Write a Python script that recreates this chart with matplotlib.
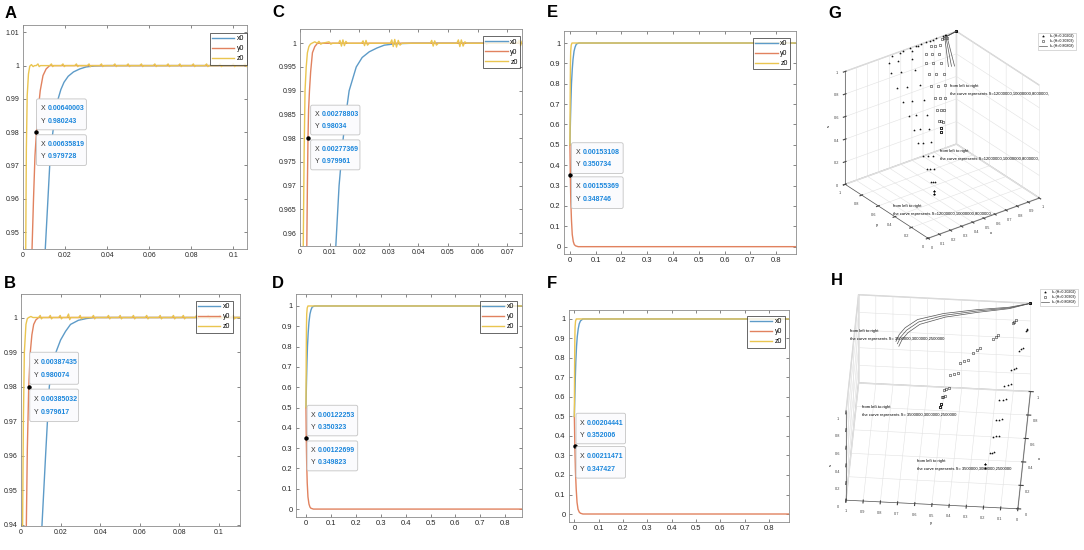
import matplotlib
matplotlib.use("Agg")
import matplotlib.pyplot as plt
from matplotlib.lines import Line2D
from matplotlib.patches import FancyBboxPatch
from matplotlib.transforms import offset_copy

plt.rcParams["font.family"] = ["Liberation Sans", "DejaVu Sans"]

FIG_W, FIG_H = 1084, 550

BLUE = "#5d9bc8"
ORANGE = "#e1825f"
YELLOW = "#eac550"
TIP_BLUE = "#1a86dc"

SERIES_NAMES = ["x0", "y0", "z0"]

# ---------------- panel A ----------------
a_x0_t = [0.0100, 0.0106, 0.0117, 0.0127, 0.0140, 0.0153, 0.0167, 0.0180, 0.0195,
          0.0215, 0.0240, 0.0270, 0.0300, 0.0340, 0.0400, 0.1065]
a_x0_v = [0.938, 0.945, 0.958, 0.970, 0.979, 0.9855, 0.990, 0.9928, 0.9950,
          0.9968, 0.9981, 0.9990, 0.9996, 0.9999, 1.0000, 1.0000]
a_y0_t = [0.0040, 0.0043, 0.0050, 0.0057, 0.0064, 0.0072, 0.0082, 0.0095, 0.0110, 0.0127, 0.1065]
a_y0_v = [0.9380, 0.945, 0.960, 0.973, 0.980, 0.9865, 0.9925, 0.9970, 0.9990, 1.0000, 1.0000]
a_z0_t = [0.0012, 0.0013, 0.0016, 0.0020, 0.0026, 0.0032, 0.0040, 0.0048, 0.0055, 0.0063,
          0.0071, 0.0077, 0.0083,
          0.0127, 0.0135, 0.0141, 0.0147, 0.0182, 0.0190, 0.0196, 0.0202,
          0.0246, 0.0254, 0.0260, 0.0266, 0.0306, 0.0314, 0.0320, 0.0326,
          0.0365, 0.0373, 0.0379, 0.0385, 0.0429, 0.0437, 0.0443, 0.0449,
          0.0492, 0.0500, 0.0506, 0.0512, 0.0555, 0.0563, 0.0569, 0.0575,
          0.0619, 0.0627, 0.0633, 0.0639, 0.0682, 0.0690, 0.0696, 0.0702,
          0.0738, 0.0746, 0.0752, 0.0758, 0.0802, 0.0810, 0.0816, 0.0822,
          0.0865, 0.0873, 0.0879, 0.0885, 0.0929, 0.0937, 0.0943, 0.0949,
          0.0992, 0.1000, 0.1006, 0.1012, 0.1048, 0.1056, 0.1062, 0.1065]
a_z0_v = [0.935, 0.945, 0.975, 0.991, 0.9975, 0.9998, 1.0003, 0.9997, 1.0000, 1.0000,
          1.0005, 0.9997, 1.0000,
          1.0, 1.0005, 0.9997, 1.0, 1.0, 1.0005, 0.9997, 1.0,
          1.0, 1.0005, 0.9997, 1.0, 1.0, 1.0005, 0.9997, 1.0,
          1.0, 1.0005, 0.9997, 1.0, 1.0, 1.0005, 0.9997, 1.0,
          1.0, 1.0005, 0.9997, 1.0, 1.0, 1.0005, 0.9997, 1.0,
          1.0, 1.0005, 0.9997, 1.0, 1.0, 1.0005, 0.9997, 1.0,
          1.0, 1.0005, 0.9997, 1.0, 1.0, 1.0005, 0.9997, 1.0,
          1.0, 1.0005, 0.9997, 1.0, 1.0, 1.0005, 0.9997, 1.0,
          1.0, 1.0005, 0.9997, 1.0, 1.0, 1.0005, 0.9997, 1.0]
a_tip_point = (0.0064, 0.98)
a_tips = [("0.00640003", "0.980243"), ("0.00635819", "0.979728")]

# ---------------- panel B ----------------
b_x0_t = [0.0100, 0.0106, 0.0125, 0.0143, 0.0155, 0.0168, 0.0180, 0.0200, 0.0225,
          0.0250, 0.0290, 0.0330, 0.0370, 0.1106]
b_x0_v = [0.9335, 0.940, 0.961, 0.980, 0.9855, 0.9885, 0.9905, 0.9935, 0.996,
          0.998, 0.9992, 0.9997, 1.0000, 1.0000]
b_y0_t = [0.0025, 0.0027, 0.0032, 0.0039, 0.0047, 0.0055, 0.0064, 0.0075, 0.0089, 0.1106]
b_y0_v = [0.930, 0.940, 0.962, 0.980, 0.990, 0.995, 0.998, 0.9993, 1.0000, 1.0000]
b_z0_t = [0.0007, 0.0008, 0.0012, 0.0017, 0.0025, 0.0032, 0.0039, 0.0050, 0.0060,
          0.0089, 0.0097, 0.0103, 0.0109, 0.0140, 0.0148, 0.0154, 0.0160,
          0.0190, 0.0198, 0.0204, 0.0210, 0.0232, 0.0240, 0.0246, 0.0252,
          0.0291, 0.0299, 0.0305, 0.0311, 0.0358, 0.0366, 0.0372, 0.0378,
          0.0434, 0.0442, 0.0448, 0.0454, 0.0493, 0.0501, 0.0507, 0.0513,
          0.0560, 0.0568, 0.0574, 0.0580, 0.0627, 0.0635, 0.0641, 0.0647,
          0.0695, 0.0703, 0.0709, 0.0715, 0.0762, 0.0770, 0.0776, 0.0782,
          0.0812, 0.0820, 0.0826, 0.0832, 0.0879, 0.0887, 0.0893, 0.0899,
          0.0938, 0.0946, 0.0952, 0.0958, 0.0997, 0.1005, 0.1011, 0.1017,
          0.1064, 0.1072, 0.1078, 0.1084, 0.1106]
b_z0_v = [0.930, 0.940, 0.970, 0.990, 0.998, 0.9997, 1.0000, 1.0003, 1.0000,
          1.0, 1.0006, 0.9996, 1.0, 1.0, 1.0006, 0.9996, 1.0,
          1.0, 1.0006, 0.9996, 1.0, 1.0, 1.0010, 0.9994, 1.0,
          1.0, 1.0006, 0.9996, 1.0, 1.0, 1.0006, 0.9996, 1.0,
          1.0, 1.0006, 0.9996, 1.0, 1.0, 1.0006, 0.9996, 1.0,
          1.0, 1.0006, 0.9996, 1.0, 1.0, 1.0006, 0.9996, 1.0,
          1.0, 1.0006, 0.9996, 1.0, 1.0, 1.0006, 0.9996, 1.0,
          1.0, 1.0006, 0.9996, 1.0, 1.0, 1.0006, 0.9996, 1.0,
          1.0, 1.0006, 0.9996, 1.0, 1.0, 1.0006, 0.9996, 1.0,
          1.0, 1.0006, 0.9996, 1.0, 1.0]
b_tip_point = (0.00387, 0.98)
b_tips = [("0.00387435", "0.980074"), ("0.00385032", "0.979617")]

# ---------------- panel C ----------------
c_x0_t = [0.0115, 0.0121, 0.0132, 0.0146, 0.0155, 0.0166, 0.0190, 0.0210, 0.0234,
          0.0260, 0.0285, 0.0324, 0.0380, 0.0750]
c_x0_v = [0.950, 0.9573, 0.970, 0.980, 0.985, 0.990, 0.995, 0.9970, 0.9982,
          0.9990, 0.9996, 0.9999, 1.0000, 1.0000]
c_y0_t = [0.0021, 0.0023, 0.0025, 0.0027, 0.0029, 0.0032, 0.0036, 0.0042, 0.0050, 0.0059, 0.0750]
c_y0_v = [0.945, 0.9573, 0.970, 0.980, 0.986, 0.990, 0.994, 0.998, 0.9993, 1.0000, 1.0000]
c_z0_t = [0.0009, 0.0011, 0.0014, 0.0017, 0.0021, 0.0025, 0.0030, 0.0035, 0.0040, 0.0050, 0.0058,
          0.0064, 0.0070, 0.0076, 0.0098, 0.0104, 0.0110,
          0.0130, 0.0135, 0.0140, 0.0145, 0.0150, 0.0155, 0.0160,
          0.0208, 0.0213, 0.0218, 0.0223, 0.0228, 0.0234,
          0.0305, 0.0310, 0.0315, 0.0320, 0.0326, 0.0332, 0.0338, 0.0344,
          0.0440, 0.0445, 0.0450, 0.0455, 0.0461, 0.0467,
          0.0530, 0.0535, 0.0540, 0.0545, 0.0551, 0.0557, 0.0563,
          0.0620, 0.0625, 0.0630, 0.0635, 0.0700, 0.0735, 0.0740, 0.0745, 0.0750]
c_z0_v = [0.945, 0.9573, 0.977, 0.990, 0.995, 0.998, 0.9993, 0.9998, 1.0000, 1.0003, 1.0000,
          1.0004, 0.9998, 1.0, 1.0003, 0.9998, 1.0,
          1.0, 1.0006, 0.9994, 1.0007, 0.9995, 1.0004, 1.0,
          1.0, 1.0005, 0.9995, 1.0006, 0.9996, 1.0,
          1.0, 1.0007, 0.9993, 1.0008, 0.9992, 1.0006, 0.9996, 1.0,
          1.0, 1.0006, 0.9994, 1.0005, 0.9996, 1.0,
          1.0, 1.0007, 0.9993, 1.0007, 0.9994, 1.0003, 1.0,
          1.0, 1.0003, 0.9998, 1.0, 1.0, 1.0, 1.0006, 0.9995, 1.0004]
c_tip_point = (0.00278, 0.98)
c_tips = [("0.00278803", "0.98034"), ("0.00277369", "0.979961")]

# ---------------- panel D ----------------
d_x0_t = [0.000, 0.002, 0.004, 0.006, 0.009, 0.012, 0.016, 0.020, 0.025, 0.035, 0.867]
d_x0_v = [0.50, 0.62, 0.72, 0.80, 0.87, 0.92, 0.96, 0.98, 0.995, 1.00, 1.00]
d_y0_t = [0.000, 0.0012, 0.003, 0.005, 0.008, 0.012, 0.016, 0.020, 0.030, 0.867]
d_y0_v = [0.50, 0.35, 0.22, 0.13, 0.06, 0.025, 0.010, 0.004, 0.000, 0.000]
d_z0_t = [0.000, 0.001, 0.002, 0.003, 0.005, 0.008, 0.867]
d_z0_v = [0.50, 0.75, 0.90, 0.96, 0.99, 1.00, 1.00]
d_tip_point = (0.00122, 0.35)
d_tips = [("0.00122253", "0.350323"), ("0.00122699", "0.349823")]

# ---------------- panel E ----------------
e_x0_t = [0.000, 0.002, 0.004, 0.006, 0.009, 0.012, 0.016, 0.020, 0.025, 0.035, 0.877]
e_x0_v = [0.50, 0.62, 0.72, 0.80, 0.87, 0.92, 0.96, 0.98, 0.995, 1.00, 1.00]
e_y0_t = [0.000, 0.0015, 0.0035, 0.006, 0.009, 0.013, 0.017, 0.022, 0.032, 0.877]
e_y0_v = [0.50, 0.35, 0.22, 0.13, 0.06, 0.025, 0.010, 0.004, 0.000, 0.000]
e_z0_t = [0.000, 0.001, 0.002, 0.003, 0.005, 0.008, 0.877]
e_z0_v = [0.50, 0.75, 0.90, 0.96, 0.99, 1.00, 1.00]
e_tip_point = (0.00153, 0.35)
e_tips = [("0.00153108", "0.350734"), ("0.00155369", "0.348746")]

# ---------------- panel F ----------------
f_x0_t = [0.000, 0.002, 0.004, 0.006, 0.009, 0.012, 0.016, 0.020, 0.025, 0.035, 0.882]
f_x0_v = [0.50, 0.60, 0.70, 0.78, 0.86, 0.91, 0.95, 0.975, 0.99, 1.00, 1.00]
f_y0_t = [0.000, 0.0020, 0.0045, 0.0075, 0.011, 0.015, 0.020, 0.025, 0.035, 0.882]
f_y0_v = [0.50, 0.35, 0.22, 0.13, 0.06, 0.025, 0.010, 0.004, 0.000, 0.000]
f_z0_t = [0.000, 0.001, 0.002, 0.003, 0.005, 0.008, 0.882]
f_z0_v = [0.50, 0.75, 0.90, 0.96, 0.99, 1.00, 1.00]
f_tip_point = (0.00204, 0.35)
f_tips = [("0.00204441", "0.352006"), ("0.00211471", "0.347427")]

# ---------------- tick labels ----------------
AB_X_TICKS = [0, 0.02, 0.04, 0.06, 0.08, 0.1]
AB_X_LABELS = ["0", "0.02", "0.04", "0.06", "0.08", "0.1"]
A_Y_TICKS = [0.95, 0.96, 0.97, 0.98, 0.99, 1.0, 1.01]
A_Y_LABELS = ["0.95", "0.96", "0.97", "0.98", "0.99", "1", "1.01"]
B_Y_TICKS = [0.94, 0.95, 0.96, 0.97, 0.98, 0.99, 1.0]
B_Y_LABELS = ["0.94", "0.95", "0.96", "0.97", "0.98", "0.99", "1"]
C_X_TICKS = [0, 0.01, 0.02, 0.03, 0.04, 0.05, 0.06, 0.07]
C_X_LABELS = ["0", "0.01", "0.02", "0.03", "0.04", "0.05", "0.06", "0.07"]
C_Y_TICKS = [0.96, 0.965, 0.97, 0.975, 0.98, 0.985, 0.99, 0.995, 1.0]
C_Y_LABELS = ["0.96", "0.965", "0.97", "0.975", "0.98", "0.985", "0.99", "0.995", "1"]
DEF_X_TICKS = [0, 0.1, 0.2, 0.3, 0.4, 0.5, 0.6, 0.7, 0.8]
DEF_X_LABELS = ["0", "0.1", "0.2", "0.3", "0.4", "0.5", "0.6", "0.7", "0.8"]
DEF_Y_TICKS = [0, 0.1, 0.2, 0.3, 0.4, 0.5, 0.6, 0.7, 0.8, 0.9, 1.0]
DEF_Y_LABELS = ["0", "0.1", "0.2", "0.3", "0.4", "0.5", "0.6", "0.7", "0.8", "0.9", "1"]

# ---------------- panel G (3D) ----------------
G_STAR_X = [
    [0.43, 0.43, 0.42, 0.41, 0.40, 0.39, 0.38, 0.37, 0.36, 0.35, 0.35, 0.37, 0.42, 0.52, 0.64, 0.76, 0.88, 1.00],
    [0.43, 0.43, 0.43, 0.43, 0.43, 0.42, 0.42, 0.42, 0.42, 0.42, 0.42, 0.44, 0.49, 0.58, 0.68, 0.79, 0.90, 1.00],
    [0.43, 0.43, 0.44, 0.45, 0.46, 0.47, 0.48, 0.49, 0.50, 0.51, 0.52, 0.54, 0.58, 0.65, 0.73, 0.82, 0.91, 1.00],
]
G_STAR_Y = [
    [0.50, 0.50, 0.53, 0.56, 0.60, 0.64, 0.68, 0.73, 0.79, 0.85, 0.92, 0.97, 1.00, 1.00, 1.00, 1.00, 1.00, 1.00],
    [0.50, 0.50, 0.52, 0.55, 0.58, 0.62, 0.66, 0.71, 0.76, 0.82, 0.89, 0.95, 0.99, 1.00, 1.00, 1.00, 1.00, 1.00],
    [0.50, 0.50, 0.51, 0.53, 0.56, 0.59, 0.63, 0.67, 0.72, 0.78, 0.85, 0.92, 0.97, 0.99, 1.00, 1.00, 1.00, 1.00],
]
G_STAR_Z = [0.00, 0.03, 0.10, 0.20, 0.30, 0.40, 0.50, 0.60, 0.70, 0.80, 0.90, 0.96, 0.99, 1.00, 1.00, 1.00, 1.00, 1.00]

G_RING_X = [
    [0.49, 0.49, 0.50, 0.51, 0.52, 0.53, 0.55, 0.58, 0.63, 0.72, 0.85, 1.00],
    [0.49, 0.49, 0.51, 0.53, 0.55, 0.57, 0.59, 0.62, 0.67, 0.75, 0.87, 1.00],
    [0.49, 0.49, 0.52, 0.55, 0.58, 0.61, 0.64, 0.67, 0.71, 0.78, 0.89, 1.00],
]
G_RING_Y = [
    [0.50, 0.50, 0.54, 0.58, 0.62, 0.67, 0.73, 0.80, 0.87, 0.93, 0.97, 1.00],
    [0.50, 0.50, 0.53, 0.56, 0.60, 0.64, 0.70, 0.77, 0.85, 0.92, 0.97, 1.00],
    [0.50, 0.50, 0.52, 0.55, 0.58, 0.62, 0.67, 0.74, 0.82, 0.90, 0.96, 1.00],
]
G_RING_Z = [0.53, 0.56, 0.60, 0.68, 0.76, 0.84, 0.91, 0.96, 0.99, 1.00, 1.00, 1.00]

G_LINE_X = [[0.66, 0.88, 1.00], [0.68, 0.89, 1.00], [0.70, 0.90, 1.00]]
G_LINE_Y = [[0.64, 0.98, 1.00], [0.63, 0.98, 1.00], [0.62, 0.98, 1.00]]
G_LINE_Z = [0.98, 1.00, 1.00]

G_X_TICKS = [0, 0.1, 0.2, 0.3, 0.4, 0.5, 0.6, 0.7, 0.8, 0.9, 1.0]
G_X_LABELS = ["0", "0.1", "0.2", "0.3", "0.4", "0.5", "0.6", "0.7", "0.8", "0.9", "1"]
TICKS_02 = [0, 0.2, 0.4, 0.6, 0.8, 1.0]
LABELS_02 = ["0", "0.2", "0.4", "0.6", "0.8", "1"]
G_NOTE = "from left to right\nthe curve represents S=12000000,10000000,8000000,"

# ---------------- panel H (3D) ----------------
H_LINE_X = [
    [0.62, 0.68, 0.74, 0.815, 0.877, 0.923, 0.958, 1.00],
    [0.60, 0.66, 0.72, 0.795, 0.862, 0.912, 0.952, 1.00],
    [0.58, 0.64, 0.70, 0.775, 0.847, 0.901, 0.946, 1.00],
]
H_LINE_Y = [
    [0.755, 0.74, 0.71, 0.643, 0.496, 0.309, 0.121, 0.00],
    [0.745, 0.73, 0.70, 0.635, 0.490, 0.305, 0.120, 0.00],
    [0.735, 0.72, 0.69, 0.627, 0.484, 0.301, 0.119, 0.00],
]
H_LINE_Z = [1.0, 1.0, 1.0, 1.0, 1.0, 1.0, 1.0, 1.0]

H_RING_X = [
    [0.46, 0.47, 0.50, 0.53, 0.58, 0.63, 0.67, 0.74, 0.85, 1.00],
    [0.46, 0.47, 0.50, 0.54, 0.59, 0.645, 0.69, 0.76, 0.86, 1.00],
    [0.46, 0.47, 0.51, 0.55, 0.605, 0.66, 0.71, 0.78, 0.875, 1.00],
]
H_RING_Y = [
    [0.484, 0.482, 0.478, 0.470, 0.436, 0.382, 0.309, 0.200, 0.093, 0.00],
    [0.484, 0.482, 0.470, 0.455, 0.415, 0.360, 0.290, 0.185, 0.085, 0.00],
    [0.484, 0.482, 0.462, 0.440, 0.395, 0.340, 0.270, 0.170, 0.078, 0.00],
]
H_RING_Z = [0.50, 0.52, 0.56, 0.60, 0.70, 0.78, 0.85, 0.92, 0.97, 1.00]

H_STAR_X = [
    [0.333, 0.34, 0.372, 0.415, 0.459, 0.523, 0.561, 0.609, 0.699, 0.81, 1.00],
    [0.333, 0.34, 0.375, 0.420, 0.465, 0.530, 0.570, 0.620, 0.710, 0.82, 1.00],
    [0.333, 0.34, 0.378, 0.425, 0.470, 0.537, 0.580, 0.630, 0.720, 0.83, 1.00],
]
H_STAR_Y = [
    [0.217, 0.215, 0.192, 0.175, 0.160, 0.146, 0.120, 0.085, 0.045, 0.014, 0.00],
    [0.217, 0.215, 0.178, 0.158, 0.142, 0.127, 0.102, 0.070, 0.035, 0.010, 0.00],
    [0.217, 0.215, 0.164, 0.141, 0.124, 0.108, 0.085, 0.055, 0.025, 0.006, 0.00],
]
H_STAR_Z = [0.00, 0.03, 0.12, 0.25, 0.38, 0.52, 0.64, 0.75, 0.86, 0.94, 1.00]

H_Y_TICKS = G_X_TICKS
H_Y_LABELS = G_X_LABELS
H_NOTE = "from left to right\nthe curve represents S= 3500000,3000000,2500000"

LEGEND_3D = ["k\u2081\u2082(H=0.20202)", "k\u2081\u2082(H=0.30303)", "k\u2081\u2082(H=0.80808)"]


def _rect(left, top, right, bottom):
    """Прямоугольник осей из пиксельных координат картинки."""
    return [left / FIG_W, 1 - bottom / FIG_H, (right - left) / FIG_W, (bottom - top) / FIG_H]


def _fig_xy(x, y):
    return x / FIG_W, 1 - y / FIG_H


def draw_curves(fig, rect, series, xlim, ylim, xticks, xlabels, yticks, ylabels, fs, leg_at):
    ax = fig.add_axes(rect)
    for (t, v), color, name in zip(series, [BLUE, ORANGE, YELLOW], SERIES_NAMES):
        ax.plot(t, v, color=color, lw=1.0, label=name)
    ax.set_xlim(xlim)
    ax.set_ylim(ylim)
    ax.set_xticks(xticks)
    ax.set_xticklabels(xlabels)
    ax.set_yticks(yticks)
    ax.set_yticklabels(ylabels)
    ax.tick_params(direction="in", length=2, width=0.5, top=True, right=True,
                   labelsize=fs, color="#555555", labelcolor="#262626", pad=2.5)
    for s in ax.spines.values():
        s.set_color("#8c8c8c")
        s.set_linewidth(0.6)
    leg = ax.legend(loc="upper right", bbox_to_anchor=leg_at, fontsize=5, frameon=True,
                    fancybox=False, edgecolor="#222222", handlelength=3.2,
                    handletextpad=0.4, borderpad=0.35, labelspacing=0.42,
                    borderaxespad=0.0)
    leg.get_frame().set_linewidth(0.6)
    return ax


def draw_tips(ax, point, texts, boxes):
    ax.plot(point[0], point[1], "o", ms=2.2, color="black", zorder=6)
    lab_tr = offset_copy(ax.transAxes, fig=ax.figure, x=3, units="points")
    val_tr = offset_copy(ax.transAxes, fig=ax.figure, x=8, units="points")
    for (xs, ys), (l, b, r, t) in zip(texts, boxes):
        ax.add_patch(FancyBboxPatch((l, b), r - l, t - b,
                                    boxstyle="round,pad=0,rounding_size=0.008",
                                    transform=ax.transAxes, fc="#fbfbfd",
                                    ec="#c4c4c4", lw=0.6, zorder=7))
        for frac, lab, val in [(0.68, "X", xs), (0.28, "Y", ys)]:
            yy = b + (t - b) * frac
            ax.text(l, yy, lab, transform=lab_tr, fontsize=5, color="#333333",
                    va="center", zorder=8)
            ax.text(l, yy, val, transform=val_tr, fontsize=5, color=TIP_BLUE,
                    fontweight="bold", va="center", zorder=8)


def draw_3d(fig, rect, elev, azim, aspect, zoom, stars, rings, lines, ticks, legend_xy):
    ax = fig.add_axes(rect, projection="3d")
    ax.set_proj_type("ortho")
    ax.view_init(elev=elev, azim=azim)
    ax.set_box_aspect(aspect, zoom=zoom)
    ax.set_xlim(0, 1)
    ax.set_ylim(0, 1)
    ax.set_zlim(0, 1)

    sx, sy, sz = stars
    for xs, ys in zip(sx, sy):
        ax.plot(xs, ys, sz, ls="none", marker="*", ms=1.4, color="black", mew=0.2)
    rx, ry, rz = rings
    for xs, ys in zip(rx, ry):
        ax.plot(xs, ys, rz, ls="none", marker="o", ms=1.9, mfc="none", color="black", mew=0.3)
    lx, ly, lz = lines
    for xs, ys in zip(lx, ly):
        ax.plot(xs, ys, lz, color="#555555", lw=0.5)

    (xt, xl), (yt, yl), (zt, zl) = ticks
    ax.set_xticks(xt)
    ax.set_xticklabels(xl)
    ax.set_yticks(yt)
    ax.set_yticklabels(yl)
    ax.set_zticks(zt)
    ax.set_zticklabels(zl)
    for axis in (ax.xaxis, ax.yaxis, ax.zaxis):
        axis.set_pane_color((1, 1, 1, 1))
        axis.pane.set_edgecolor("#d0d0d0")
        axis.line.set_color("#555555")
        axis.line.set_linewidth(0.5)
        axis._axinfo["grid"].update(color="#e2e2e2", linewidth=0.4)
    ax.tick_params(labelsize=2.8, pad=-4, colors="#444444")
    ax.set_xlabel("x", fontsize=3, labelpad=-13)
    ax.set_ylabel("y", fontsize=3, labelpad=-13)
    ax.set_zlabel("z", fontsize=3, labelpad=-13)

    handles = [
        Line2D([], [], ls="none", marker="*", ms=1.6, color="black", mew=0.2),
        Line2D([], [], ls="none", marker="o", ms=1.8, mfc="none", color="black", mew=0.3),
        Line2D([], [], color="#555555", lw=0.5),
    ]
    leg = ax.legend(handles, LEGEND_3D, loc="upper right", bbox_to_anchor=legend_xy,
                    bbox_transform=fig.transFigure, fontsize=2.6, frameon=True,
                    fancybox=False, edgecolor="#aaaaaa", handlelength=2.2,
                    borderpad=0.4, labelspacing=0.3)
    leg.get_frame().set_linewidth(0.4)
    return ax


def main():
    fig = plt.figure(figsize=(FIG_W / 100, FIG_H / 100), dpi=100)
    fig.patch.set_facecolor("white")

    ax = draw_curves(fig, _rect(23, 25, 247, 249),
                     [(a_x0_t, a_x0_v), (a_y0_t, a_y0_v), (a_z0_t, a_z0_v)],
                     (0, 0.1065), (0.9449, 1.0122), AB_X_TICKS, AB_X_LABELS,
                     A_Y_TICKS, A_Y_LABELS, 5, (1.0, 0.964))
    draw_tips(ax, a_tip_point, a_tips, [(0.06, 0.532, 0.283, 0.67), (0.06, 0.373, 0.283, 0.51)])

    ax = draw_curves(fig, _rect(21, 294, 240, 526),
                     [(b_x0_t, b_x0_v), (b_y0_t, b_y0_v), (b_z0_t, b_z0_v)],
                     (0, 0.1106), (0.9397, 1.0068), AB_X_TICKS, AB_X_LABELS,
                     B_Y_TICKS, B_Y_LABELS, 5, (0.968, 0.97))
    draw_tips(ax, b_tip_point, b_tips, [(0.04, 0.611, 0.263, 0.749), (0.04, 0.45, 0.263, 0.59)])

    ax = draw_curves(fig, _rect(300, 29, 522, 246),
                     [(c_x0_t, c_x0_v), (c_y0_t, c_y0_v), (c_z0_t, c_z0_v)],
                     (0, 0.0750), (0.9573, 1.0030), C_X_TICKS, C_X_LABELS,
                     C_Y_TICKS, C_Y_LABELS, 5, (0.992, 0.966))
    draw_tips(ax, c_tip_point, c_tips, [(0.048, 0.512, 0.27, 0.649), (0.048, 0.351, 0.27, 0.489)])

    ax = draw_curves(fig, _rect(296, 294, 522, 517),
                     [(d_x0_t, d_x0_v), (d_y0_t, d_y0_v), (d_z0_t, d_z0_v)],
                     (-0.040, 0.867), (-0.039, 1.059), DEF_X_TICKS, DEF_X_LABELS,
                     DEF_Y_TICKS, DEF_Y_LABELS, 5.5, (0.978, 0.969))
    draw_tips(ax, d_tip_point, d_tips, [(0.049, 0.364, 0.273, 0.501), (0.049, 0.207, 0.273, 0.341)])

    ax = draw_curves(fig, _rect(564, 31, 796, 254),
                     [(e_x0_t, e_x0_v), (e_y0_t, e_y0_v), (e_z0_t, e_z0_v)],
                     (-0.023, 0.877), (-0.036, 1.059), DEF_X_TICKS, DEF_X_LABELS,
                     DEF_Y_TICKS, DEF_Y_LABELS, 5.5, (0.975, 0.97))
    draw_tips(ax, e_tip_point, e_tips, [(0.032, 0.361, 0.255, 0.499), (0.032, 0.204, 0.255, 0.346)])

    ax = draw_curves(fig, _rect(569, 310, 789, 522),
                     [(f_x0_t, f_x0_v), (f_y0_t, f_y0_v), (f_z0_t, f_z0_v)],
                     (-0.022, 0.882), (-0.041, 1.046), DEF_X_TICKS, DEF_X_LABELS,
                     DEF_Y_TICKS, DEF_Y_LABELS, 5.5, (0.98, 0.972))
    draw_tips(ax, f_tip_point, f_tips, [(0.032, 0.369, 0.257, 0.513), (0.032, 0.207, 0.257, 0.356)])

    draw_3d(fig, _rect(819, 13, 1059, 263), 29, -126.7, (1, 1, 0.93), 0.95,
            (G_STAR_X, G_STAR_Y, G_STAR_Z), (G_RING_X, G_RING_Y, G_RING_Z),
            (G_LINE_X, G_LINE_Y, G_LINE_Z),
            ((G_X_TICKS, G_X_LABELS), (TICKS_02, LABELS_02), (TICKS_02, LABELS_02)),
            _fig_xy(1078, 31))
    for x, y in [(950, 84), (940, 149), (893, 204)]:
        fig.text(*_fig_xy(x, y), G_NOTE, fontsize=3, va="top", ha="left", linespacing=2.4)

    draw_3d(fig, _rect(815, 280, 1055, 530), 43, -175.8, (1, 1, 0.7), 1.1,
            (H_STAR_X, H_STAR_Y, H_STAR_Z), (H_RING_X, H_RING_Y, H_RING_Z),
            (H_LINE_X, H_LINE_Y, H_LINE_Z),
            ((TICKS_02, LABELS_02), (H_Y_TICKS, H_Y_LABELS), (TICKS_02, LABELS_02)),
            _fig_xy(1080, 287))
    for x, y in [(850, 329), (862, 405), (917, 459)]:
        fig.text(*_fig_xy(x, y), H_NOTE, fontsize=3, va="top", ha="left", linespacing=2.4)

    for letter, x, y in [("A", 5, 6), ("B", 4, 276), ("C", 272, 5), ("D", 272, 276),
                         ("E", 547, 5), ("F", 547, 276), ("G", 828, 6), ("H", 831, 273)]:
        fig.text(*_fig_xy(x, y), letter, fontsize=12, fontweight="bold", va="top", ha="left")

    fig.savefig("out.png", dpi=100, facecolor="white")
    plt.close(fig)


if __name__ == "__main__":
    main()
